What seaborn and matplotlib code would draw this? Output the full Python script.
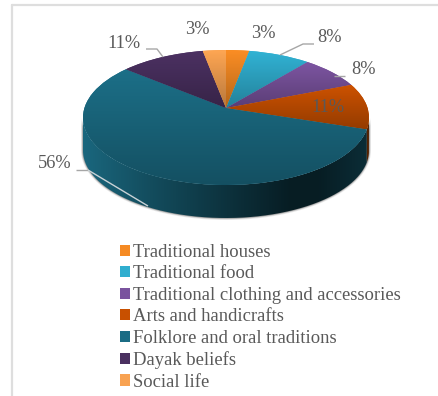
import numpy as np
import matplotlib
matplotlib.use("Agg")
import matplotlib.pyplot as plt
import matplotlib.colors as mcolors
from matplotlib.lines import Line2D
from matplotlib.path import Path
from matplotlib.patches import PathPatch, Patch
from matplotlib.transforms import Transform
import seaborn as sns

categories = ["Traditional houses", "Traditional food",
              "Traditional clothing and accessories", "Arts and handicrafts",
              "Folklore and oral traditions", "Dayak beliefs", "Social life"]
shares = [3, 8, 8, 11, 56, 11, 3]
colours = ["#f58a23", "#30aecf", "#7a539e", "#c85000",
           "#1b6c84", "#4a3060", "#f8a251"]

W, H = 438, 396
CX, CY, RX, RY = 226, 117.5, 143, 67.5   # top face of the pie, in pixels
DEPTH = 33 / RY                           # wall height in pie units
TILT = 0.14                               # how far the apex sits behind the centre

sns.set_theme(style="white")
plt.rcParams["font.family"] = ["Liberation Serif", "DejaVu Serif"]
TEXT = "#595959"
palette = sns.color_palette(colours)


class TiltedDisc(Transform):
    """Projective map of the unit disc onto itself that moves the apex back."""
    input_dims = output_dims = 2
    is_separable = False
    has_inverse = False

    def transform_non_affine(self, values):
        v = np.asarray(values, dtype=float)
        d = 1 + TILT * v[:, 1]
        return np.column_stack([v[:, 0] * np.sqrt(1 - TILT ** 2) / d,
                                (v[:, 1] + TILT) / d])


def px(x, y):
    """Pixel position (origin top-left) to pie units."""
    return (x - CX) / RX, (CY - y) / RY


def shaded(colour, factors):
    rgb = np.array(mcolors.to_rgb(colour))
    return np.clip(np.outer(factors, rgb), 0, 1)


fig = plt.figure(figsize=(W / 100, H / 100), dpi=100, facecolor="white")
ax = fig.add_axes([0, 0, 1, 1])
tilt = TiltedDisc()

wedges, _ = ax.pie(shares, colors=palette, startangle=90, counterclock=False,
                   radius=1, wedgeprops={"linewidth": 0, "zorder": 4})

# Soft shadow hugging the bottom of the wall
t = np.linspace(np.pi, 2 * np.pi, 200)
for grow, alpha in [(2.0, 0.10), (1.2, 0.18), (0.5, 0.30)]:
    xs = np.cos(t) * (1 + grow / RX)
    ys = np.sin(t) * (1 + grow / RY) - DEPTH
    ax.fill(np.r_[xs, xs[::-1]], np.r_[ys, np.sin(t[::-1])],
            color="#303030", alpha=alpha, lw=0, zorder=1)

# Side wall and top-face gradient for each slice
wall_x = [-1.0, -0.55, 0.1, 0.45, 0.65, 1.0]
wall_f = [0.95, 0.72, 0.42, 0.27, 0.27, 0.42]
xgrid = np.linspace(-1, 1, 256)
wall_shade = np.interp(xgrid, wall_x, wall_f)

for wedge, colour in zip(wedges, palette):
    wedge.set_transform(tilt + ax.transData)

    th = np.radians(np.linspace(wedge.theta1, wedge.theta2, 300))
    rim = tilt.transform_non_affine(np.column_stack([np.cos(th), np.sin(th)]))
    rim = rim[rim[:, 1] < 0]
    if len(rim) > 1:
        lower = rim[::-1] - [0, DEPTH]
        wall = PathPatch(Path(np.vstack([rim, lower, rim[:1]])),
                         fc="none", ec="none", transform=ax.transData, zorder=2)
        ax.add_patch(wall)
        img = shaded(colour, wall_shade)[np.newaxis, :, :]
        im = ax.imshow(img, extent=(-1, 1, -1 - DEPTH, 0.2), aspect="auto",
                       interpolation="bilinear", zorder=3)
        im.set_clip_path(wall)

    box = tilt.transform_path(wedge.get_path()).get_extents()
    grad = shaded(colour, np.linspace(1.03, 0.74, 128))[:, np.newaxis, :]
    im = ax.imshow(grad, extent=(box.x0, box.x1, box.y0, box.y1), aspect="auto",
                   interpolation="bilinear", zorder=5)
    im.set_clip_path(wedge)

# Leader lines
leaders = [([146, 157, 163], [49, 49, 57], "#a6a6a6"),
           ([280, 303, 314], [55, 44, 44], "#a6a6a6"),
           ([334, 345], [76, 76], "#a6a6a6"),
           ([76, 88], [170, 170], "#a6a6a6"),
           ([88, 148], [170, 206], "#c9d2d6")]
for xs, ys, c in leaders:
    lx, ly = px(np.array(xs, float), np.array(ys, float))
    ax.plot(lx, ly, color=c, lw=1.0, zorder=6, solid_capstyle="butt")

# Percentage labels, in slice order
label_spots = [(263, 34), (330, 38), (364, 70), (328, 107),
               (55, 164), (124, 43), (197, 29)]
for share, (x, y) in zip(shares, label_spots):
    lx, ly = px(x, y)
    ax.text(lx, ly, f"{share}%", ha="center", va="center", fontsize=13.2,
            color=TEXT, zorder=7)

ax.set_aspect("auto")
ax.set_xlim(px(0, 0)[0], px(W, 0)[0])
ax.set_ylim(px(0, H)[1], px(0, 0)[1])
ax.set_axis_off()

handles = [Patch(facecolor=c, linewidth=0) for c in palette]
leg = ax.legend(handles, categories, loc="upper left",
                bbox_to_anchor=(120 / W, 1 - 244 / H), frameon=False,
                fontsize=13.4, labelcolor=TEXT, labelspacing=0.24,
                handlelength=0.55, handleheight=0.55, handletextpad=0.17,
                borderpad=0, borderaxespad=0)

# Chart frame: only the top and left rules fall inside the canvas
fig.add_artist(Line2D([12 / W, 12 / W], [0, 1 - 5 / H], color="#dedede", lw=1.6))
fig.add_artist(Line2D([12 / W, 1], [1 - 5 / H, 1 - 5 / H], color="#dedede", lw=1.6))

fig.savefig("out.png", dpi=100, facecolor="white")
